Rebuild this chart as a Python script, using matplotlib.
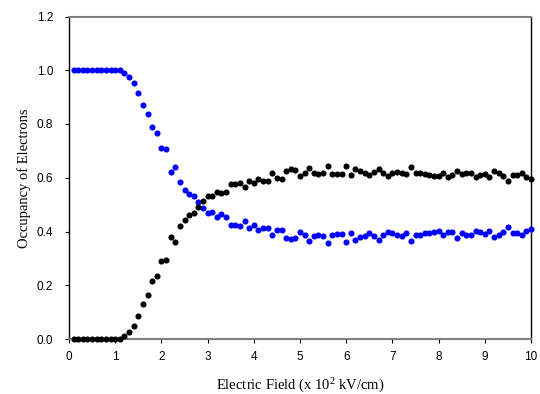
import numpy as np
import matplotlib
matplotlib.use("Agg")
import matplotlib.pyplot as plt

plt.rcParams["mathtext.fontset"] = "custom"
plt.rcParams["mathtext.rm"] = "Liberation Serif"
plt.rcParams["mathtext.it"] = "Liberation Serif:italic"

field = [round(0.1 * i, 1) for i in range(1, 101)]

occ_blue = [
    1.0, 1.0, 1.0, 1.0, 1.0, 1.0, 1.0, 1.0, 1.0, 1.0,
    1.0, 0.990, 0.975, 0.953, 0.917, 0.872, 0.839, 0.787, 0.767, 0.710,
    0.706, 0.623, 0.641, 0.583, 0.556, 0.540, 0.533, 0.509, 0.487, 0.469,
    0.471, 0.455, 0.465, 0.455, 0.426, 0.424, 0.419, 0.438, 0.414, 0.423,
    0.405, 0.414, 0.414, 0.387, 0.405, 0.406, 0.375, 0.371, 0.375, 0.399,
    0.387, 0.366, 0.384, 0.387, 0.384, 0.357, 0.387, 0.389, 0.389, 0.361,
    0.393, 0.368, 0.378, 0.383, 0.395, 0.383, 0.368, 0.387, 0.399, 0.393,
    0.387, 0.383, 0.393, 0.366, 0.387, 0.387, 0.393, 0.393, 0.399, 0.403,
    0.387, 0.399, 0.399, 0.374, 0.393, 0.387, 0.387, 0.401, 0.399, 0.390,
    0.403, 0.378, 0.387, 0.399, 0.415, 0.395, 0.395, 0.387, 0.403, 0.408,
]

occ_black = [
    0.0, 0.0, 0.0, 0.0, 0.0, 0.0, 0.0, 0.0, 0.0, 0.0,
    0.0, 0.011, 0.027, 0.048, 0.084, 0.130, 0.164, 0.216, 0.235, 0.291,
    0.294, 0.378, 0.361, 0.419, 0.444, 0.462, 0.470, 0.493, 0.514, 0.533,
    0.532, 0.546, 0.544, 0.548, 0.575, 0.577, 0.582, 0.565, 0.589, 0.581,
    0.597, 0.587, 0.589, 0.616, 0.599, 0.596, 0.626, 0.632, 0.628, 0.605,
    0.616, 0.637, 0.617, 0.615, 0.616, 0.644, 0.615, 0.613, 0.613, 0.642,
    0.609, 0.632, 0.624, 0.618, 0.610, 0.622, 0.634, 0.618, 0.606, 0.616,
    0.622, 0.616, 0.613, 0.640, 0.616, 0.616, 0.613, 0.610, 0.606, 0.606,
    0.616, 0.603, 0.610, 0.625, 0.613, 0.616, 0.616, 0.603, 0.610, 0.613,
    0.603, 0.625, 0.618, 0.606, 0.589, 0.610, 0.610, 0.616, 0.601, 0.594,
]

x_ticks = [0, 1, 2, 3, 4, 5, 6, 7, 8, 9, 10]
y_ticks = [0.0, 0.2, 0.4, 0.6, 0.8, 1.0, 1.2]

fig = plt.figure(figsize=(5.4, 3.94), dpi=100)
ax = fig.add_axes([69 / 540, 1 - 339 / 394, (531 - 69) / 540, (339 - 16.5) / 394])

ax.plot(field, occ_blue, linestyle="none", marker="o", markersize=4.4,
        color="#0000ff", markeredgewidth=0, clip_on=False, zorder=3)
ax.plot(field, occ_black, linestyle="none", marker="o", markersize=4.4,
        color="black", markeredgewidth=0, clip_on=False, zorder=4)

ax.set_xlim(0, 10)
ax.set_ylim(0, 1.2)
ax.set_xticks(x_ticks)
ax.set_xticklabels([str(t) for t in x_ticks])
ax.set_yticks(y_ticks)
ax.set_yticklabels([f"{t:.1f}" for t in y_ticks])

for lab in ax.get_xticklabels() + ax.get_yticklabels():
    lab.set_fontfamily("Liberation Sans")
    lab.set_fontsize(8.5)

ax.tick_params(direction="out", length=2.8, width=0.8, color="black")
ax.tick_params(axis="y", pad=8.5)
ax.tick_params(axis="x", pad=5.5)

for side in ["left", "right"]:
    ax.spines[side].set_color("black")
    ax.spines[side].set_linewidth(1.0)
for side in ["top", "bottom"]:
    ax.spines[side].set_color("#808080")
    ax.spines[side].set_linewidth(1.5)

ax.set_xlabel("Electric Field (x 10$^{2}$ kV/cm)", family="Liberation Serif",
              fontsize=10.5, labelpad=10)
ax.set_ylabel("Occupancy of Electrons", family="Liberation Serif",
              fontsize=10.5, labelpad=4)

fig.savefig("out.png", dpi=100)
